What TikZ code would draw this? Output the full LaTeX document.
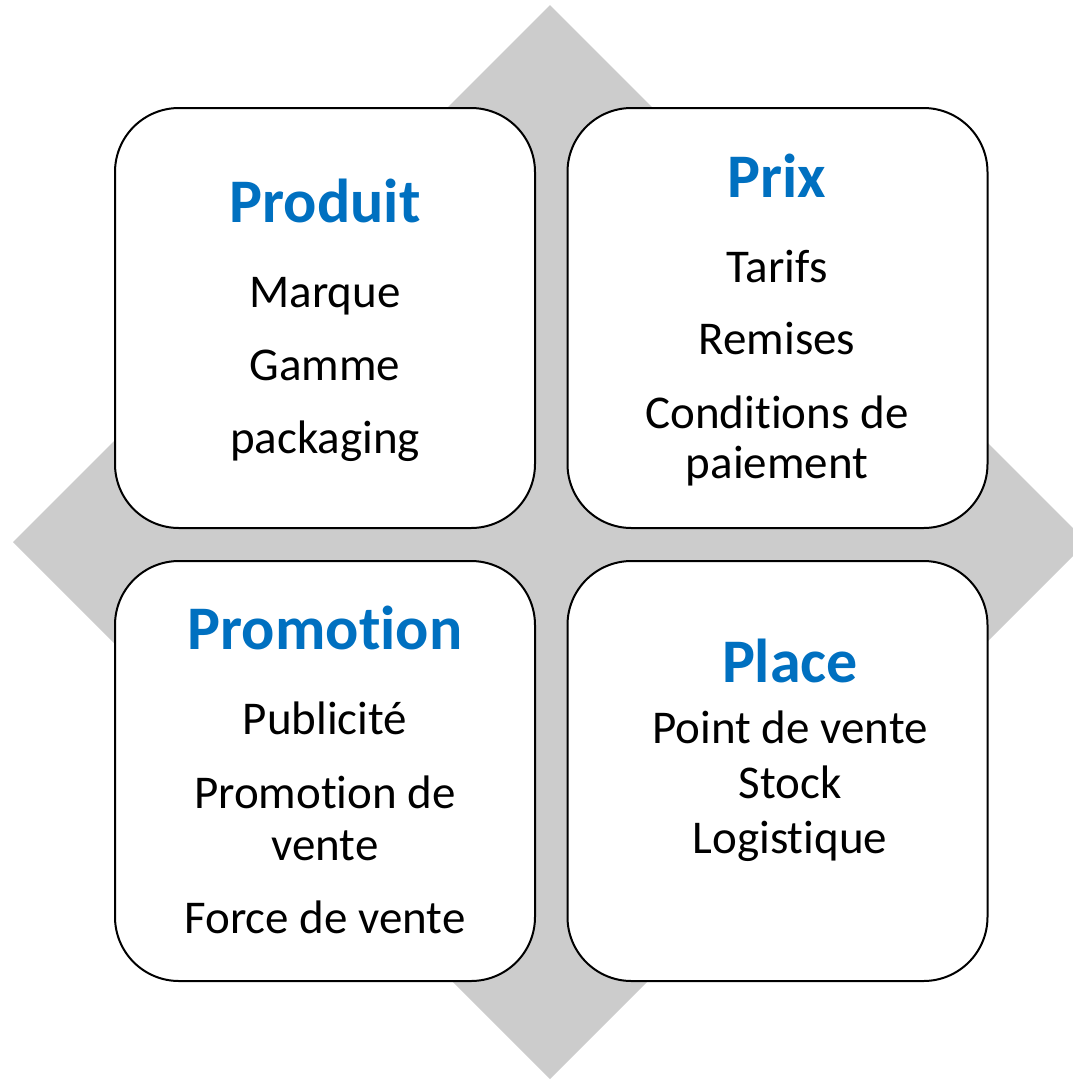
\documentclass[tikz,border=0pt]{standalone}
\usepackage{fontspec}
\setmainfont{Carlito}[Ligatures = NoCommon]
\usepackage{tikz}
\definecolor{titleblue}{RGB}{0,112,192}
\definecolor{backgray}{RGB}{204,204,204}
\newcommand{\tibreak}{\kern0pt}

\begin{document}
\begin{tikzpicture}[x = 1pt, y = -1pt, line width = 2pt,
                      quad/.style = {draw = black, fill = white, rounded corners = 64pt,
                                     minimum width = 420pt, minimum height = 420pt, inner sep = 0pt},
                      title/.style = {anchor = base, inner sep = 0pt, text = titleblue,
                                      font = \fontsize{62}{75}\selectfont\bfseries},
                      item/.style = {anchor = base, inner sep = 0pt,
                                     font = \fontsize{47}{57}\selectfont}]
    \useasboundingbox (0, 0) rectangle (1073, 1080);
    \clip (0, 0) rectangle (1073, 1080);
    \fill [backgray] (550, 5) -- (1087, 542) -- (550, 1079) -- (13, 542) -- cycle;
    \node [quad] (produit) at (325, 318){};
    \node [quad] (prix) at (777.5, 318){};
    \node [quad] (promotion) at (325, 771){};
    \node [quad] (place) at (777.5, 771){};
    % Produit
    \node [title] (t1) at (325, 222){Produit};
    \node [item] (t1a) at (325, 307){Marque};
    \node [item] (t1b) at (325, 380){Gamme};
    \node [item] (t1c) at (325, 453){packaging};
    % Prix
    \node [title] (t2) at (777, 197){Prix};
    \node [item] (t2a) at (777, 282){Tarifs};
    \node [item] (t2b) at (777, 354){Remises};
    \node [item] (t2c) at (777, 428){Condit\tibreak ions de};
    \node [item] (t2d) at (777, 478){paiement};
    % Promotion
    \node [title] (t3) at (325, 649){Promot\tibreak ion};
    \node [item] (t3a) at (325, 734){Publicité};
    \node [item] (t3b) at (325, 808){Promot\tibreak ion de};
    \node [item] (t3c) at (325, 860){vente};
    \node [item] (t3d) at (325, 933){Force de vente};
    % Place
    \node [title] (t4) at (790, 682){Place};
    \node [item] (t4a) at (790, 743){Point de vente};
    \node [item] (t4b) at (790, 798){Stock};
    \node [item] (t4c) at (790, 853){Logist\tibreak ique};
\end{tikzpicture}
\end{document}
